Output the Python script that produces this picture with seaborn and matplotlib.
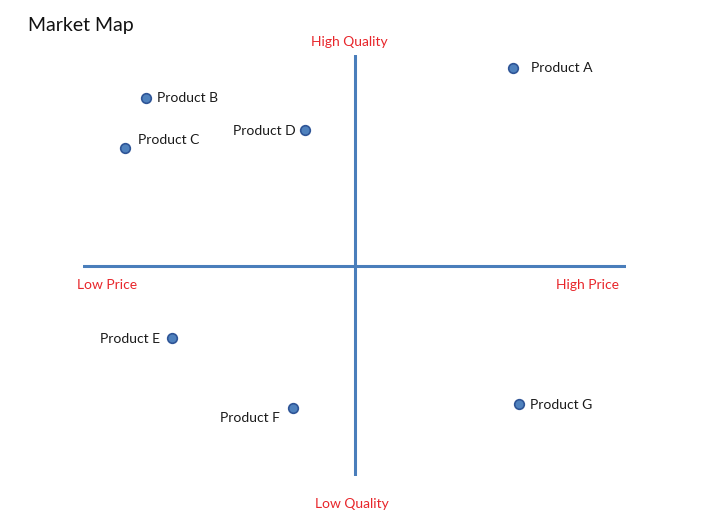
import matplotlib
matplotlib.use("Agg")
import matplotlib.pyplot as plt
import seaborn as sns
import pandas as pd

products = ["Product A", "Product B", "Product C", "Product D", "Product E", "Product F", "Product G"]
price = [5.84, -7.68, -8.45, -1.82, -6.72, -2.27, 6.06]
quality = [9.38, 7.94, 5.58, 6.44, -3.44, -6.77, -6.59]

sns.set_theme(style="white")
plt.rcParams['font.family'] = ['Lato', 'DejaVu Sans']

df = pd.DataFrame({"product": products, "price": price, "quality": quality})

fig = plt.figure(figsize=(7.2, 5.25), dpi=100)
ax = fig.add_axes([83/720, 49/525, 543/720, 421/525])
ax.set_xlim(-10, 10)
ax.set_ylim(-10, 10)
ax.axis("off")

ax.axhline(0, color="#4A7EBB", lw=2.2, zorder=1)
ax.axvline(0, color="#4A7EBB", lw=2.2, zorder=1)

sns.scatterplot(data=df, x="price", y="quality", ax=ax, s=48,
                color="#4F81BD", edgecolor="#2F5597", linewidth=1.2, zorder=3, legend=False)

offsets = {
    "Product A": (18, 0, "left"),
    "Product B": (11, 0, "left"),
    "Product C": (13, 8, "left"),
    "Product D": (-9, -1, "right"),
    "Product E": (-12, -1, "right"),
    "Product F": (-13, -10, "right"),
    "Product G": (11, -1, "left"),
}
for p, x, y in zip(products, price, quality):
    dx, dy, ha = offsets[p]
    ax.annotate(p, (x, y), xytext=(dx, dy), textcoords="offset pixels",
                ha=ha, va="center", fontsize=10, color="#1a1a1a")

red = "#E8262B"
fig.text(349/720, 1 - 42/525, "High Quality", ha="center", va="center", fontsize=10, color=red)
fig.text(352/720, 1 - 504/525, "Low Quality", ha="center", va="center", fontsize=10, color=red)
fig.text(107/720, 1 - 285/525, "Low Price", ha="center", va="center", fontsize=10, color=red)
fig.text(587/720, 1 - 285/525, "High Price", ha="center", va="center", fontsize=10, color=red)
fig.text(28/720, 1 - 26/525, "Market Map", ha="left", va="center", fontsize=14, color="#111111")

fig.savefig("out.png", dpi=100)
